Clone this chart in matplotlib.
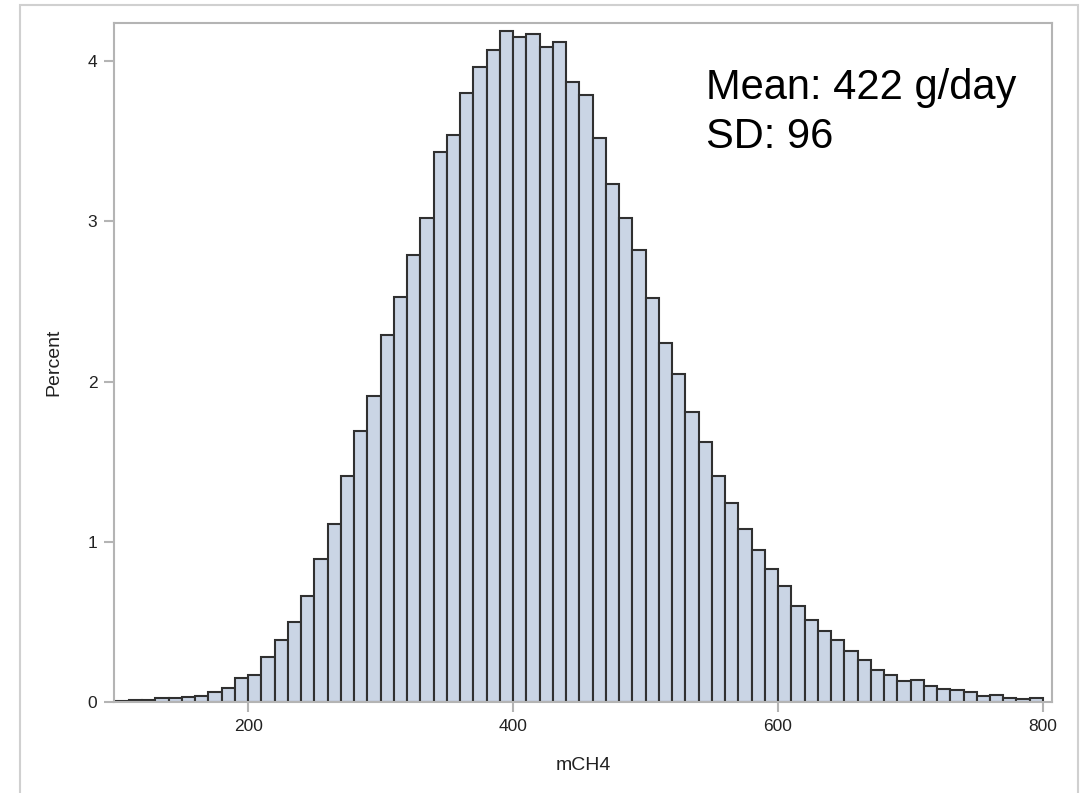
import numpy as np
import matplotlib.pyplot as plt
from matplotlib.patches import Rectangle

# histogram of mCH4, bins of width 10 from 100 to 800
bin_start = 100
bin_width = 10
percent = [
    0.005, 0.01, 0.015, 0.025, 0.025, 0.03, 0.04, 0.065, 0.09, 0.15,
    0.17, 0.28, 0.39, 0.50, 0.66, 0.89, 1.11, 1.41, 1.69, 1.91,
    2.29, 2.53, 2.79, 3.02, 3.43, 3.54, 3.80, 3.96, 4.07, 4.19,
    4.15, 4.17, 4.09, 4.12, 3.87, 3.79, 3.52, 3.23, 3.02, 2.82,
    2.52, 2.24, 2.05, 1.81, 1.62, 1.41, 1.24, 1.08, 0.95, 0.83,
    0.725, 0.60, 0.51, 0.44, 0.385, 0.32, 0.26, 0.20, 0.17, 0.13,
    0.14, 0.10, 0.08, 0.077, 0.063, 0.036, 0.044, 0.027, 0.02, 0.025,
]
edges = bin_start + bin_width * np.arange(len(percent))

x_ticks = [200, 400, 600, 800]
y_ticks = [0, 1, 2, 3, 4]
stats_text = "Mean: 422 g/day\nSD: 96"

plt.rcParams['font.family'] = ['Liberation Sans', 'DejaVu Sans']

fig = plt.figure(figsize=(10.86, 7.93), dpi=100)
ax = fig.add_axes([114 / 1086, 1 - 702 / 793, (1052 - 114) / 1086, (702 - 23) / 793])

ax.bar(edges, percent, width=bin_width, align='edge',
       color='#cad5e5', edgecolor='#303030', linewidth=1.5)

ax.set_xlim(98.7, 806.8)
ax.set_ylim(0, 4.2375)
ax.set_xticks(x_ticks)
ax.set_yticks(y_ticks)

for s in ax.spines.values():
    s.set_color('#b4b4b4')
    s.set_linewidth(1.5)
ax.tick_params(colors='#b4b4b4', labelcolor='#222222', length=7, width=1.5,
               labelsize=12.5, pad=5)

ax.set_xlabel('mCH4', fontsize=14, color='#222222', labelpad=17)
ax.set_ylabel('Percent', fontsize=14, color='#222222', labelpad=18)

ax.text(545.4, 3.955, stats_text, fontsize=30, va='top', ha='left',
        linespacing=1.28, color='black')

# outer frame of the graph
fig.patches.append(Rectangle((20 / 1086, -0.05), (1078 - 20) / 1086, 1.05 - 5 / 793,
                             transform=fig.transFigure, fill=False,
                             edgecolor='#d0d0d0', linewidth=1.5))

fig.savefig('out.png', dpi=100)
